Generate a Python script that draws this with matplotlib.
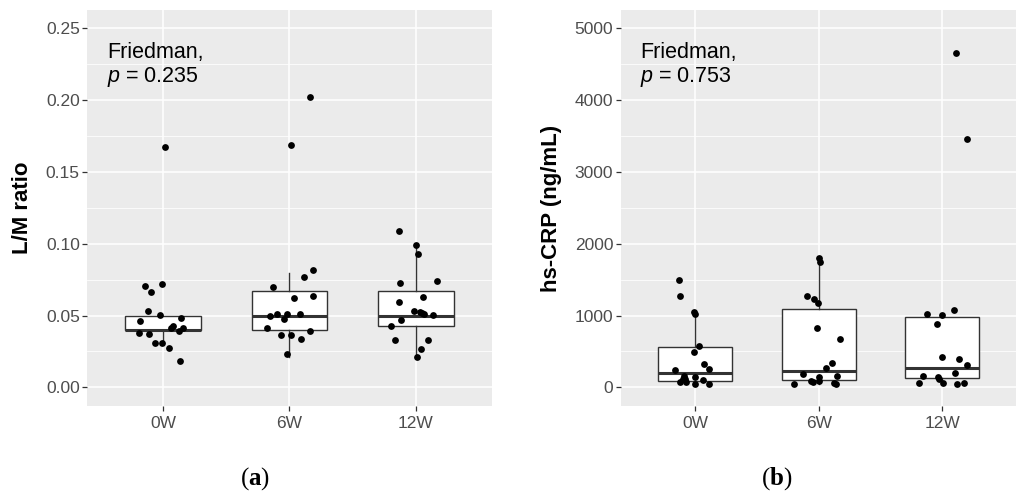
import matplotlib
matplotlib.use("Agg")
import matplotlib.pyplot as plt
from matplotlib.ticker import MultipleLocator

plt.rcParams['font.family'] = ['Liberation Sans', 'DejaVu Sans']
plt.rcParams['mathtext.fontset'] = 'custom'
plt.rcParams['mathtext.it'] = 'Liberation Sans:italic'
plt.rcParams['mathtext.rm'] = 'Liberation Serif'
plt.rcParams['mathtext.bf'] = 'Liberation Serif:bold'

categories = ["0W", "6W", "12W"]

# ---- Panel (a): L/M ratio ----
lm_0w = [0.1671, 0.0722, 0.0703, 0.0664, 0.0531, 0.0501, 0.0485, 0.0460, 0.0415,
         0.0427, 0.0415, 0.0394, 0.0380, 0.0369, 0.0311, 0.0308, 0.0276, 0.0183]
lm_0w_jit = [0.016, -0.013, -0.142, -0.097, -0.124, -0.026, 0.143, -0.182, 0.061,
             0.074, 0.158, 0.127, -0.192, -0.111, -0.010, -0.068, 0.048, 0.130]
lm_6w = [0.2024, 0.1684, 0.0815, 0.0768, 0.0696, 0.0634, 0.0620, 0.0513, 0.0508,
         0.0513, 0.0497, 0.0476, 0.0413, 0.0390, 0.0364, 0.0364, 0.0338, 0.0230]
lm_6w_jit = [0.164, 0.011, 0.190, 0.111, -0.134, 0.185, 0.037, -0.100, -0.016,
             0.082, -0.158, -0.047, -0.179, 0.166, -0.066, 0.011, 0.092, -0.016]
lm_12w = [0.1088, 0.0989, 0.0930, 0.0726, 0.0738, 0.0596, 0.0627, 0.0533, 0.0524,
          0.0515, 0.0508, 0.0503, 0.0471, 0.0429, 0.0329, 0.0329, 0.0264, 0.0211]
lm_12w_jit = [-0.135, 0.003, 0.018, -0.127, 0.169, -0.135, 0.061, -0.010, 0.032,
              0.048, 0.063, 0.140, -0.116, -0.195, -0.166, 0.095, 0.040, 0.013]
lm_q1 = [0.0397, 0.0397, 0.0425]
lm_med = [0.0401, 0.0497, 0.0497]
lm_q3 = [0.0499, 0.0673, 0.0673]
lm_whislo = [0.0306, 0.0213, 0.0211]
lm_whishi = [0.0499, 0.0798, 0.0991]

# ---- Panel (b): hs-CRP ----
crp_0w = [1495, 1276, 1053, 1021, 571, 487, 325, 251, 241, 157, 148, 111, 74, 74,
          46, 97, 50, 120]
crp_0w_jit = [-0.127, -0.124, -0.006, 0.0, 0.035, -0.006, 0.075, 0.110, -0.159,
              -0.089, 0.0, -0.100, -0.119, -0.070, 0.0, 0.062, 0.116, -0.080]
crp_6w = [1797, 1741, 1272, 1234, 1170, 826, 673, 339, 265, 185, 92, 78, 148, 92,
          157, 64, 46, 46]
crp_6w_jit = [0.006, 0.011, -0.094, -0.040, -0.002, -0.016, 0.173, 0.105, 0.057,
              -0.129, -0.061, -0.050, 0.0, 0.006, 0.151, 0.124, 0.143, -0.199]
crp_12w = [4661, 3454, 1025, 1012, 1072, 886, 427, 399, 311, 195, 157, 148, 120,
           64, 64, 46, 56]
crp_12w_jit = [0.108, 0.202, -0.126, 0.0, 0.095, -0.043, -0.002, 0.135, 0.202,
               0.102, -0.156, -0.037, -0.024, -0.188, 0.008, 0.119, 0.176]
crp_q1 = [92, 97, 134]
crp_med = [195, 227, 265]
crp_q3 = [557, 1086, 979]
crp_whislo = [46, 46, 46]
crp_whishi = [1053, 1797, 1012]

fig = plt.figure(figsize=(10.17, 4.93), dpi=100)
axA = fig.add_axes([0.0860, 0.1765, 0.3973, 0.8032])
axB = fig.add_axes([0.6106, 0.1765, 0.3889, 0.8032])

BG = '#EBEBEB'
TXT = '#4D4D4D'
EDGE = '#333333'


def draw_panel(ax, groups, jits, q1, med, q3, wlo, whi, ylim, major, minor,
               fmt, ylabel, label_x, ptxt):
    ax.set_facecolor(BG)
    for s in ax.spines.values():
        s.set_visible(False)
    ax.set_axisbelow(True)
    ax.yaxis.set_major_locator(MultipleLocator(major))
    ax.yaxis.set_minor_locator(MultipleLocator(minor))
    ax.grid(which='major', color='white', lw=1.1)
    ax.grid(which='minor', axis='y', color='white', lw=0.55)
    stats = []
    for i in range(len(categories)):
        stats.append(dict(q1=q1[i], med=med[i], q3=q3[i], whislo=wlo[i],
                          whishi=whi[i], fliers=[], label=categories[i]))
    pos = list(range(1, len(categories) + 1))
    ax.bxp(stats, positions=pos, widths=0.6, showfliers=False, patch_artist=True,
           showcaps=False,
           boxprops=dict(facecolor='white', edgecolor=EDGE, lw=1.0),
           medianprops=dict(color=EDGE, lw=2.2),
           whiskerprops=dict(color=EDGE, lw=1.0), zorder=2)
    for i, (vals, jit) in enumerate(zip(groups, jits)):
        xs = [pos[i] + j for j in jit]
        ax.scatter(xs, vals, s=24, color='black', zorder=3, linewidths=0)
    ax.set_xlim(0.4, 3.6)
    ax.set_ylim(*ylim)
    ax.set_xticks(pos)
    ax.set_xticklabels(categories)
    ax.yaxis.set_major_formatter(plt.FuncFormatter(lambda v, p: fmt.format(v)))
    ax.tick_params(axis='both', which='major', colors=EDGE, labelcolor=TXT,
                   labelsize=12.5, length=3.5, width=0.9)
    ax.tick_params(axis='y', which='major', pad=2)
    ax.tick_params(axis='x', which='major', pad=3.5)
    ax.tick_params(which='minor', length=0)
    ax.set_ylabel(ylabel, fontsize=16, fontweight='bold', color='black')
    ax.yaxis.set_label_coords(label_x, 0.5)
    ax.text(0.048, 0.918, "Friedman,\n" + ptxt, transform=ax.transAxes,
            ha='left', va='top', fontsize=15.5, color='black', linespacing=1.1)


draw_panel(axA, [lm_0w, lm_6w, lm_12w], [lm_0w_jit, lm_6w_jit, lm_12w_jit],
           lm_q1, lm_med, lm_q3, lm_whislo, lm_whishi, (-0.013, 0.2627),
           0.05, 0.025, "{:.2f}", "L/M ratio", -0.135, r"$p$ = 0.235")
draw_panel(axB, [crp_0w, crp_6w, crp_12w], [crp_0w_jit, crp_6w_jit, crp_12w_jit],
           crp_q1, crp_med, crp_q3, crp_whislo, crp_whishi, (-260, 5256),
           1000, 500, "{:.0f}", "hs-CRP (ng/mL)", -0.150, r"$p$ = 0.753")

fig.text(0.2507, 0.030, r"$\mathrm{(}\mathbf{a}\mathrm{)}$", ha='center',
         va='center', fontsize=18, color='black')
fig.text(0.764, 0.030, r"$\mathrm{(}\mathbf{b}\mathrm{)}$", ha='center',
         va='center', fontsize=18, color='black')

fig.savefig("out.png", dpi=100)
